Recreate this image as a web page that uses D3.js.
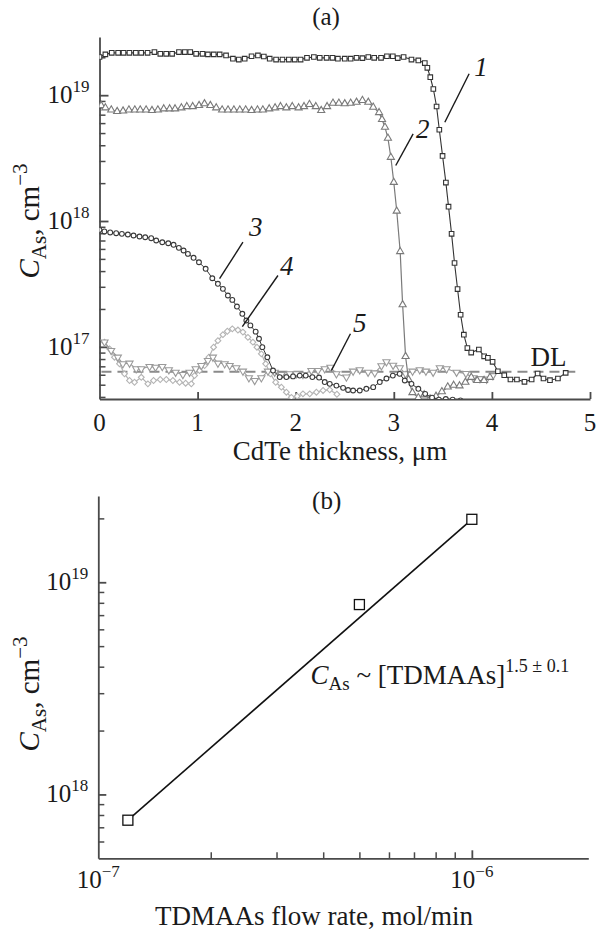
<!DOCTYPE html>
<html>
<head>
<meta charset="utf-8">
<script src="https://cdn.jsdelivr.net/npm/d3@7"></script>
<style>
    body { margin: 0; background: #fff; }
    svg text { font-family: "Liberation Serif", "Times New Roman", serif; fill: #1a1a1a; }
</style>
</head>
<body>
<svg id="chart" width="602" height="931"></svg>
<script>
// ---- panel (a): As profiles, [thickness um, concentration cm^-3] ----
const curve1 = [[0.00,2.01e19],[0.06,2.11e19],[0.125,2.17e19],[0.19,2.17e19],[0.245,2.17e19],[0.305,2.17e19],[0.37,2.17e19],[0.425,2.17e19],[0.49,2.17e19],[0.56,2.20e19],[0.62,2.13e19],[0.68,2.13e19],[0.74,2.13e19],[0.81,2.20e19],[0.87,2.20e19],[0.925,2.20e19],[0.985,2.13e19],[1.05,2.13e19],[1.105,2.11e19],[1.165,2.11e19],[1.225,2.11e19],[1.29,2.07e19],[1.36,1.95e19],[1.42,1.92e19],[1.48,1.95e19],[1.55,2.04e19],[1.615,2.07e19],[1.675,2.03e19],[1.735,1.95e19],[1.80,1.92e19],[1.865,1.92e19],[1.93,1.92e19],[1.99,1.92e19],[2.05,1.92e19],[2.115,1.98e19],[2.185,2.01e19],[2.245,1.98e19],[2.315,1.98e19],[2.375,1.98e19],[2.43,1.95e19],[2.50,1.95e19],[2.56,1.95e19],[2.62,1.98e19],[2.68,1.97e19],[2.74,2.01e19],[2.80,1.98e19],[2.87,1.98e19],[2.93,2.04e19],[2.99,2.04e19],[3.04,1.97e19],[3.10,2.01e19],[3.18,1.92e19],[3.25,1.89e19],[3.316,1.80e19],[3.342,1.65e19],[3.372,1.39e19],[3.403,1.12e19],[3.436,8.13e18],[3.464,5.31e18],[3.497,3.29e18],[3.531,2.02e18],[3.558,1.30e18],[3.589,7.91e17],[3.619,4.64e17],[3.650,2.88e17],[3.681,1.80e17],[3.714,1.25e17],[3.750,9.78e16],[3.789,9.0e16],[3.867,9.53e16],[3.921,8.41e16],[3.959,8.18e16],[4.007,7.60e16],[4.061,6.40e16],[4.126,5.95e16],[4.189,5.50e16],[4.255,5.50e16],[4.332,5.27e16],[4.405,5.50e16],[4.466,6.14e16],[4.526,5.60e16],[4.592,5.43e16],[4.673,5.60e16],[4.752,6.21e16]];

const curve2 = [[0.017,8.28e18],[0.06,7.94e18],[0.12,7.64e18],[0.18,7.42e18],[0.24,7.49e18],[0.30,7.64e18],[0.36,7.64e18],[0.415,7.64e18],[0.475,7.64e18],[0.535,7.56e18],[0.595,7.64e18],[0.655,7.79e18],[0.715,7.79e18],[0.77,7.79e18],[0.835,7.94e18],[0.89,8.12e18],[0.95,8.12e18],[1.015,8.28e18],[1.07,8.55e18],[1.13,8.28e18],[1.19,7.94e18],[1.25,7.64e18],[1.31,7.64e18],[1.37,7.64e18],[1.43,7.64e18],[1.49,7.64e18],[1.55,7.56e18],[1.61,7.64e18],[1.665,7.64e18],[1.73,7.79e18],[1.79,7.94e18],[1.845,8.12e18],[1.905,7.94e18],[1.965,8.12e18],[2.03,7.94e18],[2.085,8.12e18],[2.14,8.44e18],[2.205,8.12e18],[2.26,7.56e18],[2.32,8.12e18],[2.38,8.64e18],[2.44,8.64e18],[2.50,8.55e18],[2.56,8.64e18],[2.62,8.79e18],[2.68,9.08e18],[2.74,8.79e18],[2.79,8.03e18],[2.85,7.28e18],[2.88,6.41e18],[2.91,5.57e18],[2.94,4.55e18],[2.97,3.21e18],[3.00,2.03e18],[3.03,1.20e18],[3.065,5.72e17],[3.09,2.16e17],[3.12,8.38e16],[3.15,5.50e16],[3.19,4.33e16],[3.25,3.95e16],[3.31,4.16e16],[3.37,3.85e16],[3.43,4.05e16],[3.49,4.40e16],[3.55,4.80e16],[3.61,4.95e16],[3.67,4.90e16],[3.73,5.23e16],[3.79,5.73e16],[3.85,5.40e16],[3.92,5.40e16],[3.98,5.73e16]];

const curve3 = [[0.00,8.51e17],[0.05,8.26e17],[0.109,8.11e17],[0.17,8.00e17],[0.228,7.91e17],[0.289,7.81e17],[0.347,7.67e17],[0.408,7.53e17],[0.466,7.43e17],[0.527,7.30e17],[0.578,7.00e17],[0.64,6.78e17],[0.701,6.66e17],[0.755,6.47e17],[0.809,6.12e17],[0.857,5.83e17],[0.901,5.48e17],[0.959,5.10e17],[1.014,4.70e17],[1.082,4.17e17],[1.150,3.51e17],[1.207,3.17e17],[1.258,2.89e17],[1.309,2.56e17],[1.354,2.36e17],[1.401,2.09e17],[1.456,1.83e17],[1.497,1.62e17],[1.538,1.48e17],[1.592,1.32e17],[1.626,1.16e17],[1.660,9.94e16],[1.711,8.27e16],[1.769,6.48e16],[1.837,5.75e16],[1.905,5.75e16],[1.973,5.82e16],[2.041,5.91e16],[2.102,5.91e16],[2.17,5.75e16],[2.238,5.70e16],[2.296,5.25e16],[2.347,5.08e16],[2.415,4.92e16],[2.483,4.72e16],[2.534,4.54e16],[2.585,4.50e16],[2.653,4.50e16],[2.72,4.64e16],[2.79,4.78e16],[2.857,5.25e16],[2.925,5.60e16],[2.99,5.91e16],[3.06,6.10e16],[3.112,5.40e16],[3.18,5.08e16],[3.25,4.64e16],[3.32,4.23e16],[3.39,3.95e16],[3.46,3.80e16],[3.53,3.85e16],[3.60,3.80e16],[3.68,3.75e16]];

const curve4 = [[0.051,1.09e17],[0.102,9.64e16],[0.153,8.27e16],[0.204,7.33e16],[0.255,6.10e16],[0.306,5.40e16],[0.357,5.23e16],[0.426,5.73e16],[0.493,5.08e16],[0.551,5.40e16],[0.619,5.50e16],[0.681,5.50e16],[0.748,5.40e16],[0.816,5.23e16],[0.878,5.14e16],[0.936,5.08e16],[0.969,5.91e16],[1.020,6.48e16],[1.071,7.10e16],[1.115,8.27e16],[1.163,9.93e16],[1.207,1.12e17],[1.258,1.25e17],[1.303,1.33e17],[1.354,1.39e17],[1.411,1.36e17],[1.462,1.31e17],[1.513,1.19e17],[1.564,1.09e17],[1.605,9.93e16],[1.650,8.80e16],[1.694,7.33e16],[1.742,6.10e16],[1.796,5.23e16],[1.854,4.78e16],[1.905,4.36e16],[1.956,3.97e16],[2.015,4.05e16],[2.074,4.23e16],[2.143,4.23e16],[2.211,4.36e16],[2.279,4.50e16],[2.347,4.55e16],[2.42,4.20e16]];

const curve5 = [[0.051,1.09e17],[0.119,9.35e16],[0.187,8.27e16],[0.238,7.33e16],[0.306,7.41e16],[0.374,6.69e16],[0.426,6.69e16],[0.510,6.97e16],[0.571,6.88e16],[0.640,6.97e16],[0.707,6.56e16],[0.776,6.28e16],[0.850,6.02e16],[0.918,6.28e16],[0.980,6.69e16],[1.038,7.10e16],[1.105,7.78e16],[1.156,8.27e16],[1.207,7.41e16],[1.276,7.33e16],[1.327,7.10e16],[1.395,6.81e16],[1.462,6.40e16],[1.523,5.67e16],[1.582,5.40e16],[1.650,5.67e16],[1.717,6.40e16],[1.786,6.28e16],[1.854,6.02e16],[1.939,6.10e16],[2.007,6.10e16],[2.074,6.02e16],[2.160,6.48e16],[2.228,6.48e16],[2.296,6.69e16],[2.354,6.88e16],[2.415,6.10e16],[2.517,5.75e16],[2.585,6.40e16],[2.653,6.56e16],[2.738,6.28e16],[2.806,6.20e16],[2.874,7.06e16],[2.925,7.60e16],[2.993,7.14e16],[3.061,6.81e16],[3.12,6.10e16],[3.191,6.40e16],[3.265,6.56e16],[3.327,6.40e16],[3.401,6.28e16],[3.469,6.81e16],[3.538,6.69e16],[3.640,6.28e16],[3.735,6.14e16],[3.809,5.67e16],[3.878,5.58e16],[3.946,5.53e16],[4.01,5.90e16]];

const detectionLimit = 6.33e16;
const dlRange = [0.02, 4.85];
const xTicksA = [1, 2, 3, 4, 5];
const xTickLabelsA = ["0", "1", "2", "3", "4", "5"];
const yDecadesA = [1e17, 1e18, 1e19];

// curve labels: [label, text x, text y, leader from, leader to] in data units
const curveLabels = [
    ["1", 3.888, 1.43e19, [3.768, 1.48e19], [3.520, 6.10e18]],
    ["2", 3.296, 4.53e18, [3.197, 4.93e18], [3.020, 2.76e18]],
    ["3", 1.592, 7.67e17, [1.462, 6.78e17], [1.224, 3.48e17]],
    ["4", 1.908, 3.69e17, [1.819, 3.69e17], [1.456, 1.45e17]],
    ["5", 2.653, 1.32e17, [2.558, 1.27e17], [2.364, 6.48e16]]
];

// ---- panel (b): C_As vs TDMAAs flow ----
const flowRate = [1.2e-7, 5e-7, 1e-6];
const asConc = [7.56e17, 7.85e18, 1.98e19];
const fitFlow = [1.2e-7, 1e-6];
const fitConc = [7.56e17, 1.98e19];
const yDecadesB = [1e18, 1e19];
const xDecadesB = [1e-7, 1e-6];

const svg = d3.select("#chart");

// "10" + raised exponent
function powerLabel(sel, base, exp, size, supSize, supDy) {
    sel.append("tspan").text(base).style("font-size", size + "px");
    sel.append("tspan").text(exp).attr("dy", supDy).style("font-size", supSize + "px");
}

function minorTicks(domain) {
    const out = [];
    const lo = Math.floor(Math.log10(domain[0]));
    const hi = Math.ceil(Math.log10(domain[1]));
    for (let e = lo; e <= hi; e++) {
        for (let m = 2; m <= 9; m++) {
            const v = m * Math.pow(10, e);
            if (v > domain[0] * 1.001 && v < domain[1]) out.push(v);
        }
    }
    return out;
}

// ================= panel (a) =================
const xA = d3.scaleLinear().domain([0, 5]).range([99.5, 590]);
const yA = d3.scaleLog().domain([3.85e16, 2.9e19]).range([399, 37]);

svg.append("defs").append("clipPath").attr("id", "clipA")
    .append("rect").attr("x", xA(0)).attr("y", yA.range()[1])
    .attr("width", xA(5) - xA(0)).attr("height", yA.range()[0] - yA.range()[1]);

const axisColor = "#4a4a4a";

// y axis (a)
svg.append("g").attr("transform", `translate(${xA(0)},0)`)
    .call(d3.axisLeft(yA).tickValues(yDecadesA).tickSizeInner(-9).tickSizeOuter(0).tickFormat(""))
    .call(g => g.selectAll("path,line").attr("stroke", axisColor).attr("stroke-width", 1.8));
svg.append("g").attr("transform", `translate(${xA(0)},0)`)
    .call(d3.axisLeft(yA).tickValues(minorTicks(yA.domain())).tickSizeInner(-6).tickSizeOuter(0).tickFormat(""))
    .call(g => g.select(".domain").remove())
    .call(g => g.selectAll("line").attr("stroke", axisColor).attr("stroke-width", 1.5));

// x axis (a)
svg.append("g").attr("transform", `translate(0,${yA.range()[0]})`)
    .call(d3.axisBottom(xA).tickValues(xTicksA).tickSizeInner(-7).tickSizeOuter(0).tickFormat(""))
    .call(g => g.selectAll("path,line").attr("stroke", axisColor).attr("stroke-width", 1.8));

svg.append("g").selectAll("text").data(xTickLabelsA).enter().append("text")
    .attr("x", (d, i) => xA(i)).attr("y", 431)
    .attr("text-anchor", "middle").style("font-size", "25px").text(d => d);

yDecadesA.forEach(v => {
    const t = svg.append("text").attr("x", xA(0) - 10).attr("y", yA(v) + 8)
        .attr("text-anchor", "end");
    powerLabel(t, "10", String(Math.round(Math.log10(v))), 25, 17, -11);
});

// DL line
svg.append("line")
    .attr("x1", xA(dlRange[0])).attr("x2", xA(dlRange[1]))
    .attr("y1", yA(detectionLimit)).attr("y2", yA(detectionLimit))
    .attr("stroke", "#8a8a8a").attr("stroke-width", 2).attr("stroke-dasharray", "10,6");

const lineA = d3.line().x(d => xA(d[0])).y(d => yA(d[1]));
const plotA = svg.append("g").attr("clip-path", "url(#clipA)");

const series = [
    { data: curve4, color: "#b4b4b4", sym: d3.symbolSquare, size: 17, rot: 45, lw: 1.2 },
    { data: curve5, color: "#9a9a9a", sym: d3.symbolTriangle, size: 22, rot: 180, lw: 1.1 },
    { data: curve2, color: "#7a7a7a", sym: d3.symbolTriangle, size: 22, rot: 0, lw: 1.2 },
    { data: curve3, color: "#3a3a3a", sym: d3.symbolCircle, size: 18, rot: 0, lw: 1.0 },
    { data: curve1, color: "#333333", sym: d3.symbolSquare, size: 21, rot: 0, lw: 1.1 }
];

series.forEach(s => {
    plotA.append("path").datum(s.data)
        .attr("fill", "none").attr("stroke", s.color).attr("stroke-width", s.lw)
        .attr("d", lineA);
    plotA.append("g").selectAll("path").data(s.data).enter().append("path")
        .attr("d", d3.symbol().type(s.sym).size(s.size))
        .attr("transform", d => `translate(${xA(d[0])},${yA(d[1])}) rotate(${s.rot})`)
        .attr("fill", "#fff").attr("stroke", s.color).attr("stroke-width", 1.1);
});

// curve numbers with leaders
curveLabels.forEach(c => {
    svg.append("line")
        .attr("x1", xA(c[3][0])).attr("y1", yA(c[3][1]))
        .attr("x2", xA(c[4][0])).attr("y2", yA(c[4][1]))
        .attr("stroke", "#1a1a1a").attr("stroke-width", 1.4);
    svg.append("text").attr("x", xA(c[1])).attr("y", yA(c[2]))
        .attr("text-anchor", "middle").style("font-size", "27px").style("font-style", "italic")
        .text(c[0]);
});
svg.append("text").attr("x", xA(4.577)).attr("y", yA(7.1e16))
    .attr("text-anchor", "middle").style("font-size", "27px").text("DL");

svg.append("text").attr("x", 326).attr("y", 25).attr("text-anchor", "middle")
    .style("font-size", "25px").text("(a)");
svg.append("text").attr("x", 340).attr("y", 460).attr("text-anchor", "middle")
    .style("font-size", "27px").text("CdTe thickness, \u03bcm");

function yTitle(cx, cy) {
    const t = svg.append("text").attr("transform", `translate(${cx},${cy}) rotate(-90)`)
        .attr("text-anchor", "middle").style("font-size", "29px");
    t.append("tspan").text("C").style("font-style", "italic");
    t.append("tspan").text("As").attr("dy", 7).style("font-size", "21px");
    t.append("tspan").text(", cm").attr("dy", -7);
    t.append("tspan").text("\u22123").attr("dy", -12).style("font-size", "21px");
}
yTitle(39, 221);

// ================= panel (b) =================
const xB = d3.scaleLog().domain([1e-7, 2.05e-6]).range([98.3, 588.3]);
const yB = d3.scaleLog().domain([5e17, 2.55e19]).range([858.3, 496]);

svg.append("g").attr("transform", `translate(${xB.range()[0]},0)`)
    .call(d3.axisLeft(yB).tickValues(yDecadesB).tickSizeInner(-8).tickSizeOuter(0).tickFormat(""))
    .call(g => g.selectAll("path,line").attr("stroke", axisColor).attr("stroke-width", 1.8));
svg.append("g").attr("transform", `translate(${xB.range()[0]},0)`)
    .call(d3.axisLeft(yB).tickValues(minorTicks(yB.domain())).tickSizeInner(-6).tickSizeOuter(0).tickFormat(""))
    .call(g => g.select(".domain").remove())
    .call(g => g.selectAll("line").attr("stroke", axisColor).attr("stroke-width", 1.5));

svg.append("g").attr("transform", `translate(0,${yB.range()[0]})`)
    .call(d3.axisBottom(xB).tickValues([1e-6]).tickSizeInner(-8).tickSizeOuter(0).tickFormat(""))
    .call(g => g.selectAll("path,line").attr("stroke", axisColor).attr("stroke-width", 1.8));
svg.append("g").attr("transform", `translate(0,${yB.range()[0]})`)
    .call(d3.axisBottom(xB).tickValues(minorTicks([1e-7, 1e-6])).tickSizeInner(-6).tickSizeOuter(0).tickFormat(""))
    .call(g => g.select(".domain").remove())
    .call(g => g.selectAll("line").attr("stroke", axisColor).attr("stroke-width", 1.5));

yDecadesB.forEach(v => {
    const t = svg.append("text").attr("x", xB.range()[0] - 10).attr("y", yB(v) + 8)
        .attr("text-anchor", "end");
    powerLabel(t, "10", String(Math.round(Math.log10(v))), 25, 17, -11);
});
xDecadesB.forEach(v => {
    const t = svg.append("text").attr("x", xB(v)).attr("y", 888)
        .attr("text-anchor", "middle");
    powerLabel(t, "10", "\u2212" + String(Math.abs(Math.round(Math.log10(v)))), 25, 17, -11);
});

svg.append("path").datum(d3.zip(fitFlow, fitConc))
    .attr("fill", "none").attr("stroke", "#111").attr("stroke-width", 1.6)
    .attr("d", d3.line().x(d => xB(d[0])).y(d => yB(d[1])));

svg.append("g").selectAll("rect").data(d3.zip(flowRate, asConc)).enter().append("rect")
    .attr("x", d => xB(d[0]) - 5).attr("y", d => yB(d[1]) - 5)
    .attr("width", 10).attr("height", 10)
    .attr("fill", "#fff").attr("stroke", "#111").attr("stroke-width", 1.3);

const ann = svg.append("text").attr("x", xB(3.7e-7)).attr("y", yB(3.3e18)).style("font-size", "27px");
ann.append("tspan").text("C").style("font-style", "italic");
ann.append("tspan").text("As").attr("dy", 6).style("font-size", "19px");
ann.append("tspan").text(" ~ [TDMAAs]").attr("dy", -6);
ann.append("tspan").text("1.5 \u00b1 0.1").attr("dy", -12).style("font-size", "18px");

svg.append("text").attr("x", 326.7).attr("y", 509).attr("text-anchor", "middle")
    .style("font-size", "25px").text("(b)");
svg.append("text").attr("x", 314).attr("y", 925).attr("text-anchor", "middle")
    .style("font-size", "27px").text("TDMAAs flow rate, mol/min");
yTitle(39, 694);
</script>
</body>
</html>
